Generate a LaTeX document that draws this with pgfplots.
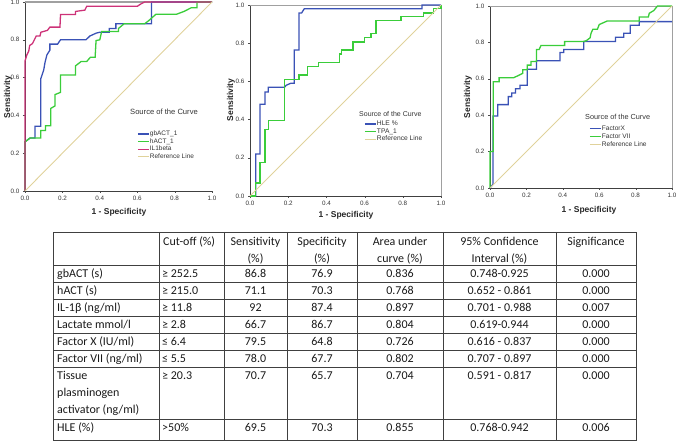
\documentclass[border=0pt]{standalone}
\usepackage{fontspec}
\setmainfont{Liberation Sans}
\newfontfamily\calfont{Carlito}
\usepackage{pgfplots}
\pgfplotsset{compat=1.18}
\definecolor{cblue}{RGB}{58,82,182}
\definecolor{cgreen}{RGB}{58,205,58}
\definecolor{cmag}{RGB}{205,50,120}
\definecolor{ctan}{RGB}{224,210,155}
\definecolor{frame}{RGB}{160,160,160}
\pgfplotsset{
  rocax/.style={
    scale only axis, xmin=0, xmax=1, ymin=0, ymax=1,
    axis x line*=bottom, axis y line*=left,
    axis line style={black!75, line width=0.6pt},
    xtick={0,0.2,0.4,0.6,0.8,1}, ytick={0,0.2,0.4,0.6,0.8,1},
    xticklabels={0.0,0.2,0.4,0.6,0.8,1.0}, yticklabels={0.0,0.2,0.4,0.6,0.8,1.0},
    tick label style={font=\fontsize{6.3}{6.5}\selectfont, text=black!80},
    tick align=outside, major tick length=2pt, tick style={black!70},
    clip=false,
    legend style={draw=none, fill=none, inner sep=0pt, row sep=0pt,
      font=\fontsize{6.5}{7}\selectfont,
      nodes={inner sep=0.6pt, text height=5pt, text depth=1.4pt, text=black!80},
      cells={anchor=west}},
    legend cell align=left,
    legend image code/.code={\draw[##1, line width=1.1pt] (0pt,0pt) -- (11pt,0pt);},
  },
  cb/.style={cblue, line width=1.3pt},
  cg/.style={cgreen, line width=1.3pt},
  cm/.style={cmag, line width=1.3pt},
  ct/.style={ctan, line width=0.9pt},
}
\newcommand{\tc}[3]{\node[anchor=base,inner sep=0pt] at (#1pt,-#2pt) {#3};}
\newcommand{\tl}[3]{\node[anchor=base west,inner sep=0pt] at (#1pt,-#2pt) {#3};}
\begin{document}
\begin{tikzpicture}
\path[use as bounding box] (0,0) rectangle (676pt,-443pt);
% ---------------- plot 1
\begin{axis}[rocax, at={(25pt,-191pt)}, anchor=south west, width=187pt, height=189pt,
  legend style={at={(0.599,0.323)}, anchor=north west}]
\draw[frame, line width=1.2pt] (rel axis cs:0,1) -- (rel axis cs:1,1);
\addplot[cb] coordinates {(0,0) (0,0.26) (0.027,0.28) (0.053,0.28) (0.053,0.343) (0.084,0.343) (0.084,0.593) (0.1,0.64) (0.107,0.68) (0.117,0.72) (0.133,0.745) (0.133,0.777) (0.174,0.777) (0.19,0.80) (0.326,0.80) (0.347,0.82) (0.38,0.835) (0.40,0.84) (0.45,0.84) (0.45,0.86) (0.486,0.86) (0.486,0.885) (0.676,0.885) (0.676,1.0) (1,1)};
\addlegendentry{gbACT\_1}
\addplot[cg] coordinates {(0,0) (0,0.26) (0.027,0.28) (0.084,0.28) (0.084,0.32) (0.11,0.32) (0.11,0.345) (0.138,0.345) (0.138,0.437) (0.16,0.45) (0.16,0.51) (0.19,0.522) (0.19,0.614) (0.27,0.614) (0.27,0.662) (0.30,0.685) (0.33,0.685) (0.35,0.708) (0.375,0.708) (0.38,0.796) (0.40,0.80) (0.41,0.844) (0.5,0.844) (0.5,0.86) (0.53,0.885) (0.64,0.885) (0.66,0.90) (0.70,0.935) (0.81,0.935) (0.85,0.95) (0.89,0.97) (0.92,0.97) (0.92,1.0) (1,1)};
\addlegendentry{hACT\_1}
\addplot[cm] coordinates {(0,0) (0,0.688) (0.01,0.72) (0.02,0.74) (0.025,0.77) (0.04,0.78) (0.05,0.80) (0.06,0.82) (0.08,0.82) (0.085,0.84) (0.12,0.85) (0.133,0.867) (0.187,0.867) (0.19,0.934) (0.27,0.934) (0.27,0.95) (0.32,0.957) (0.33,0.977) (0.6,0.977) (0.62,0.99) (0.64,1) (1,1)};
\addlegendentry{IL1beta}
\addplot[ct] coordinates {(0,0) (1,1)};
\addlegendentry{Reference Line}
\end{axis}
% ---------------- plot 2
\begin{axis}[rocax, at={(250pt,-196pt)}, anchor=south west, width=191pt, height=191pt,
  legend style={at={(0.597,0.398)}, anchor=north west, font=\fontsize{6.7}{7}\selectfont}]
\draw[frame, line width=0.8pt] (rel axis cs:0,1) -- (rel axis cs:1,1) -- (rel axis cs:1,0);
\addplot[cb] coordinates {(0,0) (0.03,0) (0.03,0.22) (0.052,0.22) (0.052,0.48) (0.079,0.48) (0.079,0.545) (0.096,0.545) (0.096,0.569) (0.18,0.569) (0.19,0.58) (0.213,0.59) (0.232,0.59) (0.232,0.764) (0.257,0.764) (0.257,0.958) (0.27,0.958) (0.284,0.98) (0.9,0.98) (0.9,1) (1,1)};
\addlegendentry{HLE \%}
\addplot[cg] coordinates {(0,0) (0.03,0) (0.03,0.068) (0.052,0.068) (0.052,0.175) (0.079,0.175) (0.079,0.348) (0.096,0.348) (0.096,0.394) (0.18,0.394) (0.18,0.611) (0.257,0.611) (0.257,0.634) (0.3,0.634) (0.3,0.678) (0.36,0.678) (0.36,0.70) (0.47,0.70) (0.47,0.744) (0.48,0.744) (0.48,0.764) (0.54,0.764) (0.54,0.807) (0.6,0.807) (0.6,0.83) (0.633,0.83) (0.633,0.85) (0.66,0.85) (0.66,0.917) (0.79,0.917) (0.79,0.94) (0.91,0.94) (0.91,0.958) (0.96,0.958) (0.96,0.98) (1,0.98) (1,1)};
\addlegendentry{TPA\_1}
\addplot[ct] coordinates {(0,0) (1,1)};
\addlegendentry{Reference Line}
\end{axis}
% ---------------- plot 3
\begin{axis}[rocax, at={(490pt,-188pt)}, anchor=south west, width=182pt, height=182pt,
  legend style={at={(0.544,0.352)}, anchor=north west, font=\fontsize{6.6}{7}\selectfont,
  nodes={text height=5.4pt, text depth=1.6pt}}]
\draw[frame, line width=0.8pt] (rel axis cs:0,1) -- (rel axis cs:1,1) -- (rel axis cs:1,0);
\addplot[cb] coordinates {(0,0) (0.016,0.02) (0.016,0.396) (0.042,0.396) (0.042,0.458) (0.1,0.458) (0.1,0.502) (0.12,0.502) (0.12,0.522) (0.14,0.522) (0.14,0.545) (0.165,0.545) (0.165,0.565) (0.205,0.565) (0.205,0.653) (0.255,0.653) (0.255,0.699) (0.385,0.699) (0.385,0.745) (0.405,0.745) (0.405,0.761) (0.515,0.761) (0.515,0.805) (0.69,0.805) (0.69,0.828) (0.735,0.828) (0.735,0.85) (0.77,0.85) (0.77,0.894) (0.82,0.894) (0.82,0.914) (1,0.914)};
\addlegendentry{FactorX}
\addplot[cg] coordinates {(0,0) (0,0.2) (0.018,0.2) (0.018,0.584) (0.05,0.584) (0.05,0.606) (0.13,0.606) (0.16,0.62) (0.18,0.63) (0.18,0.65) (0.205,0.65) (0.205,0.675) (0.225,0.675) (0.225,0.695) (0.255,0.695) (0.255,0.761) (0.27,0.761) (0.28,0.783) (0.41,0.783) (0.41,0.805) (0.515,0.805) (0.53,0.81) (0.55,0.825) (0.555,0.85) (0.565,0.872) (0.59,0.872) (0.6,0.898) (0.645,0.918) (0.82,0.918) (0.82,0.94) (0.87,0.94) (0.875,0.96) (0.9,0.975) (0.92,1) (1,1)};
\addlegendentry{Factor VII}
\addplot[ct] coordinates {(0,0) (1,1)};
\addlegendentry{Reference Line}
\end{axis}
% ---------------- axis titles and legend titles
\begin{scope}[every node/.style={font=\fontsize{8.5}{9}\selectfont\bfseries, text=black!85, inner sep=0pt}]
\node[rotate=90] at (8pt,-97pt) {Sensitivity};
\node[rotate=90] at (231pt,-100pt) {Sensitivity};
\node[rotate=90] at (468pt,-97pt) {Sensitivity};
\node at (119pt,-212pt) {1 - Specificity};
\node at (346pt,-215pt) {1 - Specificity};
\node at (589pt,-210pt) {1 - Specificity};
\end{scope}
\begin{scope}[every node/.style={text=black!80, inner sep=0pt, anchor=west}]
\node[font=\fontsize{7.6}{8}\selectfont] at (130pt,-112pt) {Source of the Curve};
\node[font=\fontsize{7}{8}\selectfont] at (359pt,-114pt) {Source of the Curve};
\node[font=\fontsize{7.3}{8}\selectfont] at (585pt,-117pt) {Source of the Curve};
\end{scope}
% ---------------- table
\begin{scope}[black!75, line width=0.7pt]
\draw (53pt,-232pt) rectangle (636pt,-440pt);
\foreach \y in {265,282,299,316,333,350,367,419} {\draw (53pt,-\y pt) -- (636pt,-\y pt);}
\foreach \x in {159,224,287,357,443,556} {\draw (\x pt,-232pt) -- (\x pt,-440pt);}
\end{scope}
\begin{scope}[font=\calfont\fontsize{12}{14}\selectfont, text=black!90]
\tl{163}{246}{Cut-off (\%)}
\tc{255.5}{246}{Sensitivity} \tc{255.5}{262}{(\%)}
\tc{322}{246}{Specificity} \tc{322}{262}{(\%)}
\tc{400}{246}{Area under} \tc{400}{262}{curve (\%)}
\tc{499.5}{246}{95\% Confidence} \tc{499.5}{262}{Interval (\%)}
\tc{596}{246}{Significance}
% rows
\tl{57}{277.5}{gbACT (s)} \tl{162}{277.5}{≥ 252.5} \tc{255.5}{277.5}{86.8} \tc{322}{277.5}{76.9} \tc{400}{277.5}{0.836} \tc{499.5}{277.5}{0.748-0.925} \tc{596}{277.5}{0.000}
\tl{57}{294.5}{hACT (s)} \tl{162}{294.5}{≥ 215.0} \tc{255.5}{294.5}{71.1} \tc{322}{294.5}{70.3} \tc{400}{294.5}{0.768} \tc{499.5}{294.5}{0.652 - 0.861} \tc{596}{294.5}{0.000}
\tl{57}{311.5}{IL-1β (ng/ml)} \tl{162}{311.5}{≥ 11.8} \tc{255.5}{311.5}{92} \tc{322}{311.5}{87.4} \tc{400}{311.5}{0.897} \tc{499.5}{311.5}{0.701 - 0.988} \tc{596}{311.5}{0.007}
\tl{57}{328.5}{Lactate mmol/l} \tl{162}{328.5}{≥ 2.8} \tc{255.5}{328.5}{66.7} \tc{322}{328.5}{86.7} \tc{400}{328.5}{0.804} \tc{499.5}{328.5}{0.619-0.944} \tc{596}{328.5}{0.000}
\tl{57}{345.5}{Factor X (IU/ml)} \tl{162}{345.5}{≤ 6.4} \tc{255.5}{345.5}{79.5} \tc{322}{345.5}{64.8} \tc{400}{345.5}{0.726} \tc{499.5}{345.5}{0.616 - 0.837} \tc{596}{345.5}{0.000}
\tl{57}{362.5}{Factor VII (ng/ml)} \tl{162}{362.5}{≤ 5.5} \tc{255.5}{362.5}{78.0} \tc{322}{362.5}{67.7} \tc{400}{362.5}{0.802} \tc{499.5}{362.5}{0.707 - 0.897} \tc{596}{362.5}{0.000}
\tl{57}{379.5}{Tissue} \tl{57}{396.5}{plasminogen} \tl{57}{413.5}{activator (ng/ml)}
\tl{162}{379.5}{≥ 20.3} \tc{255.5}{379.5}{70.7} \tc{322}{379.5}{65.7} \tc{400}{379.5}{0.704} \tc{499.5}{379.5}{0.591 - 0.817} \tc{596}{379.5}{0.000}
\tl{57}{431.5}{HLE (\%)} \tl{162}{431.5}{>50\%} \tc{255.5}{431.5}{69.5} \tc{322}{431.5}{70.3} \tc{400}{431.5}{0.855} \tc{499.5}{431.5}{0.768-0.942} \tc{596}{431.5}{0.006}
\end{scope}
\end{tikzpicture}
\end{document}
